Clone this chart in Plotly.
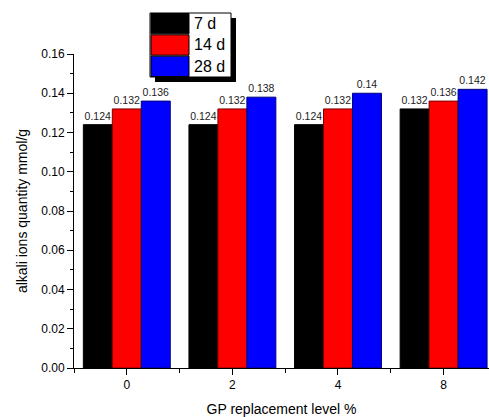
import plotly.graph_objects as go

categories = ["0", "2", "4", "8"]
series_names = ["7 d", "14 d", "28 d"]
values_7d = [0.124, 0.124, 0.124, 0.132]
values_14d = [0.132, 0.132, 0.132, 0.136]
values_28d = [0.136, 0.138, 0.14, 0.142]
y_ticks = [0.00, 0.02, 0.04, 0.06, 0.08, 0.10, 0.12, 0.14, 0.16]

fill_colors = ["#000000", "#ff0000", "#0000ff"]
line_colors = ["#000000", "#7a0000", "#00007a"]
FONT = "Arial, Liberation Sans, sans-serif"

W, H = 489, 417
L, R, T, B = 74, 0, 54, 49
pw, ph = W - L - R, H - T - B

def px(x):
    return (x - L) / pw

def py(y):
    return (H - B - y) / ph

fig = go.Figure()
xs = list(range(len(categories)))
for name, vals, fc, lc in zip(series_names, [values_7d, values_14d, values_28d], fill_colors, line_colors):
    fig.add_trace(go.Bar(
        x=xs, y=vals, name=name,
        marker=dict(color=fc, line=dict(color=lc, width=1)),
        text=[f"{v:g}" for v in vals], textposition="outside",
        textfont=dict(family=FONT, size=10.5, color="#222222"),
        cliponaxis=False, showlegend=False, hoverinfo="skip",
    ))

fig.update_layout(
    width=W, height=H, barmode="group", bargap=0.177, bargroupgap=0,
    margin=dict(l=L, r=R, t=T, b=B),
    plot_bgcolor="white", paper_bgcolor="white",
    font=dict(family=FONT, size=12, color="black"),
)
fig.update_xaxes(
    range=[-0.5, 3.43], tickmode="array", tickvals=xs, ticktext=categories,
    showline=True, linecolor="black", linewidth=1, mirror=False,
    ticks="outside", ticklen=6, tickcolor="black", showgrid=False, zeroline=False,
    minor=dict(ticks="outside", ticklen=4, tickcolor="black", dtick=1, tick0=-0.5, showgrid=False),
    tickfont=dict(size=12), title=dict(text="GP replacement level %", font=dict(size=14), standoff=12),
)
fig.update_yaxes(
    range=[0, 0.16], tickmode="array", tickvals=y_ticks, ticktext=[f"{v:.2f}" for v in y_ticks],
    showline=True, linecolor="black", linewidth=1,
    ticks="outside", ticklen=6, tickcolor="black", showgrid=False, zeroline=False,
    minor=dict(ticks="outside", ticklen=3, tickcolor="black", dtick=0.01, tick0=0, showgrid=False),
    tickfont=dict(size=12), title=dict(text="alkali ions quantity mmol/g", font=dict(size=14), standoff=10),
)

# Legend box drawn with shapes (Origin-style with drop shadow)
shapes = []
bx0, bx1, by0, by1 = 150, 231, 13, 77
shapes.append(dict(type="rect", xref="paper", yref="paper", x0=px(bx0 + 5), x1=px(bx1 + 5), y0=py(by1 + 5), y1=py(by0 + 5),
                   fillcolor="black", line=dict(width=0), layer="above"))
shapes.append(dict(type="rect", xref="paper", yref="paper", x0=px(bx0), x1=px(bx1), y0=py(by1), y1=py(by0),
                   fillcolor="white", line=dict(color="black", width=1), layer="above"))
row_h = (by1 - by0) / len(series_names)
annotations = []
for i, (name, fc, lc) in enumerate(zip(series_names, fill_colors, line_colors)):
    r0 = by0 + i * row_h
    r1 = r0 + row_h
    shapes.append(dict(type="rect", xref="paper", yref="paper", x0=px(bx0 + 1), x1=px(189), y0=py(r1 - 0.5), y1=py(r0 + 0.5),
                       fillcolor=fc, line=dict(color="black", width=1), layer="above"))
    annotations.append(dict(xref="paper", yref="paper", x=px(192), y=py((r0 + r1) / 2), text=name, showarrow=False,
                            xanchor="left", yanchor="middle", font=dict(family=FONT, size=16, color="black")))
fig.update_layout(shapes=shapes, annotations=annotations)

fig.write_html(
    "out.html",
    config={"displayModeBar": False},
    post_script="document.body.style.margin='0';document.body.style.padding='0';document.body.style.overflow='hidden';",
)
